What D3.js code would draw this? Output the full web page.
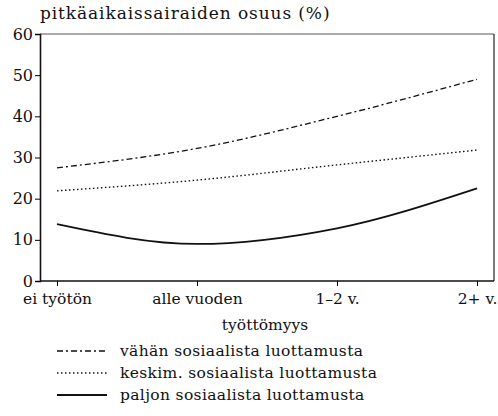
<!DOCTYPE html>
<html><head><meta charset="utf-8">
<script src="https://cdn.jsdelivr.net/npm/d3@7"></script>
<style>body{margin:0;background:#fff}svg{display:block}</style>
</head><body><svg id="c" width="498" height="416"></svg>
<script>
const categories = ["ei työtön", "alle vuoden", "1–2 v.", "2+ v."];
const vahan = [27.5, 32.2, 40.0, 49.0];
const keskim = [21.9, 24.5, 28.2, 31.8];
const paljon = [13.8, 9.0, 12.8, 22.5];
const yTicks = [0, 10, 20, 30, 40, 50, 60];
const seriesNames = ["vähän sosiaalista luottamusta", "keskim. sosiaalista luottamusta", "paljon sosiaalista luottamusta"];

const FONT = "'DejaVu Serif', 'Liberation Serif', serif";
const svg = d3.select("#c");
const L = 40, R = 494, T = 34, B = 281;
const x = d3.scalePoint().domain(categories).range([57, 477]);
const y = d3.scaleLinear().domain([0, 60]).range([B, T]);

svg.append("line").attr("x1", L).attr("x2", R).attr("y1", T).attr("y2", T).attr("stroke", "#555").attr("stroke-width", 1);
svg.append("line").attr("x1", R).attr("x2", R).attr("y1", T).attr("y2", B).attr("stroke", "#222").attr("stroke-width", 1.2);

const yAxis = svg.append("g").attr("transform", `translate(${L},0)`)
  .call(d3.axisLeft(y).tickValues(yTicks).tickSize(5).tickPadding(2));
yAxis.attr("font-family", null);
yAxis.select(".domain").attr("stroke", "#111").attr("stroke-width", 1.6);
yAxis.selectAll("text").style("font-family", FONT).style("font-size", "16px").attr("fill", "#111");

const xAxis = svg.append("g").attr("transform", `translate(0,${B})`)
  .call(d3.axisBottom(x).tickSize(5).tickPadding(7));
xAxis.attr("font-family", null);
xAxis.select(".domain").attr("d", `M${L},0H${R}`).attr("stroke", "#111").attr("stroke-width", 1.6);
xAxis.selectAll("text").style("font-family", FONT).style("font-size", "15.5px").attr("fill", "#111");

svg.append("text").attr("x", 40).attr("y", 19).style("font-family", FONT).style("font-size", "17px")
  .style("letter-spacing", "0.9px").attr("fill", "#111").text("pitkäaikaissairaiden osuus (%)");
svg.append("text").attr("x", 265).attr("y", 330).attr("text-anchor", "middle").style("font-family", FONT)
  .style("font-size", "15.5px").attr("fill", "#111").text("työttömyys");

const dashes = ["6,3,2,3", "1.5,2.5", null];
const widths = [1.3, 1.4, 1.8];
const data = [vahan, keskim, paljon];
const line = d3.line().x((d, i) => x(categories[i])).y(d => y(d)).curve(d3.curveMonotoneX);
data.forEach((s, k) => {
  svg.append("path").attr("d", line(s)).attr("fill", "none").attr("stroke", "#111")
    .attr("stroke-width", widths[k]).attr("stroke-dasharray", dashes[k]);
});

seriesNames.forEach((n, k) => {
  const ly = 351 + k * 22;
  svg.append("line").attr("x1", 57).attr("x2", 107).attr("y1", ly).attr("y2", ly)
    .attr("stroke", "#111").attr("stroke-width", widths[k]).attr("stroke-dasharray", dashes[k]);
  svg.append("text").attr("x", 120).attr("y", ly + 5).style("font-family", FONT).style("font-size", "15.5px")
    .style("letter-spacing", "0.35px").attr("fill", "#111").text(n);
});
</script></body></html>
